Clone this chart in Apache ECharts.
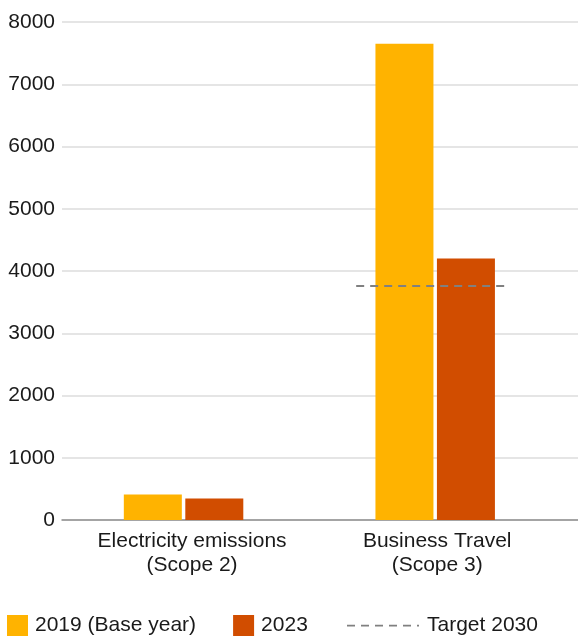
<!DOCTYPE html>
<html>
<head>
<meta charset="utf-8">
<script src="https://cdn.jsdelivr.net/npm/echarts@6/dist/echarts.min.js"></script>
<style>
  html, body { margin: 0; padding: 0; background: #ffffff; }
  #chart { width: 578px; height: 638px; }
</style>
</head>
<body>
<div id="chart"></div>
<script>
// Emissions by scope, base year vs latest year, with the 2030 target
const categories = ['Electricity emissions\n(Scope 2)', 'Business Travel\n(Scope 3)'];
const baseYear2019 = [410, 7650];
const year2023 = [345, 4200];
const target2030 = 3760;          // applies to Business Travel
const targetCategoryIndex = 1;
const yTicks = [0, 1000, 2000, 3000, 4000, 5000, 6000, 7000, 8000];

const FONT = '"Liberation Sans", Arial, sans-serif';
const TEXT = '#1a1a1a';

const chart = echarts.init(document.getElementById('chart'), null, { renderer: 'canvas' });

const yMin = yTicks[0];
const yMax = yTicks[yTicks.length - 1];
const yStep = yTicks[1] - yTicks[0];

chart.setOption({
  backgroundColor: '#ffffff',
  animation: false,
  textStyle: { fontFamily: FONT },
  grid: [
    // frame grid: value labels, grid lines and baseline
    { left: 62, right: 0, top: 22, height: 498 },
    // bar grid
    { left: 57.75, right: 17, top: 22, height: 498 }
  ],
  xAxis: [
    {
      gridIndex: 0, type: 'category', data: categories,
      axisLine: { show: true, lineStyle: { color: '#8f8f8f', width: 1.5 } },
      axisTick: { show: false }, axisLabel: { show: false }, splitLine: { show: false }
    },
    {
      gridIndex: 1, type: 'category',
      data: [
        { value: categories[0], textStyle: { padding: [0, 0, 0, 17] } },
        { value: categories[1], textStyle: { padding: [0, 0, 0, 4] } }
      ],
      axisLine: { show: false }, axisTick: { show: false },
      axisLabel: { color: TEXT, fontSize: 21, fontFamily: FONT, lineHeight: 24, margin: 9, interval: 0 }
    }
  ],
  yAxis: [
    {
      gridIndex: 0, type: 'value', min: yMin, max: yMax, interval: yStep,
      axisLine: { show: false }, axisTick: { show: false },
      axisLabel: {
        color: TEXT, fontSize: 21, fontFamily: FONT, margin: 7,
        formatter: function (v) { return String(v); }
      },
      splitLine: { show: true, lineStyle: { color: '#dcdcdc', width: 1.5 } }
    },
    {
      gridIndex: 1, type: 'value', min: yMin, max: yMax, interval: yStep,
      show: false, splitLine: { show: false }
    }
  ],
  legend: [
    {
      left: 7, top: 615, padding: 0,
      itemWidth: 21, itemHeight: 21, itemGap: 37,
      icon: 'rect',
      textStyle: { color: TEXT, fontSize: 21, fontFamily: FONT, padding: [0, 0, 0, 2] },
      data: ['2019 (Base year)', '2023']
    },
    {
      left: 347, top: 615, padding: 0,
      itemWidth: 72, itemHeight: 21, itemGap: 8,
      textStyle: { color: TEXT, fontSize: 21, fontFamily: FONT, padding: [0, 0, 0, 3] },
      data: [{
        name: 'Target 2030',
        // dashed stroke drawn as a row of short segments, centred vertically
        icon: 'path://M0,9.8h8v1.6h-8z M14,9.8h8v1.6h-8z M28,9.8h8v1.6h-8z M42,9.8h8v1.6h-8z M56,9.8h8v1.6h-8z M70,9.8h2v1.6h-2z M0,0h0.01v0.01h-0.01z M71.99,20.99h0.01v0.01h-0.01z'
      }]
    }
  ],
  series: [
    {
      name: '2019 (Base year)', type: 'bar',
      xAxisIndex: 1, yAxisIndex: 1,
      data: baseYear2019,
      barWidth: 58, barGap: '6%',
      itemStyle: { color: '#ffb300' }
    },
    {
      name: '2023', type: 'bar',
      xAxisIndex: 1, yAxisIndex: 1,
      data: year2023,
      barWidth: 58, barGap: '6%',
      itemStyle: { color: '#d14d00' }
    },
    {
      name: 'Target 2030', type: 'custom',
      xAxisIndex: 1, yAxisIndex: 1,
      itemStyle: { color: '#808080' },
      data: [[targetCategoryIndex, target2030]],
      z: 5,
      renderItem: function (params, api) {
        const p = api.coord([api.value(0), api.value(1)]);
        const band = api.size([1, 0])[0];
        return {
          type: 'line',
          shape: { x1: p[0] - band * 0.314, y1: p[1], x2: p[0] + band * 0.278, y2: p[1] },
          style: { stroke: '#808080', lineWidth: 2, lineDash: [8, 6], fill: null }
        };
      }
    }
  ]
});
</script>
</body>
</html>
